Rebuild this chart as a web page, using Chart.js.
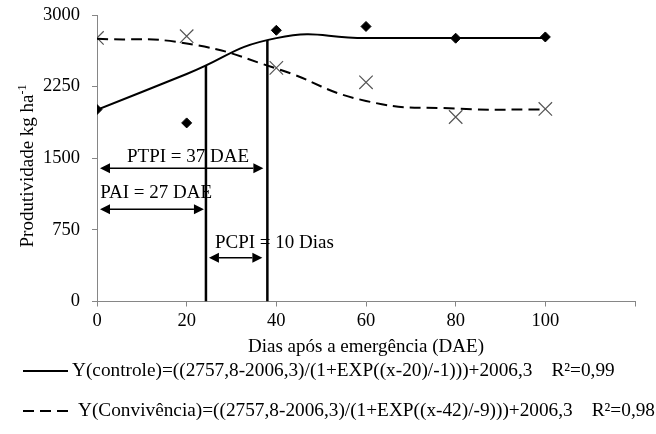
<!DOCTYPE html>
<html>
<head>
<meta charset="utf-8">
<script src="https://cdn.jsdelivr.net/npm/chart.js@4.4.1/dist/chart.umd.min.js"></script>
<style>
  html, body { margin: 0; padding: 0; background: #fff; }
  #wrap { width: 656px; height: 434px; }
</style>
</head>
<body>
<div id="wrap"><canvas id="chart"></canvas></div>
<script>
// Dias após a emergência (DAE)
const dias = [0, 20, 40, 60, 80, 100];

// Produtividade observada (kg/ha)
const controleObs = [2010, 1870, 2840, 2880, 2757, 2770];
const convivenciaObs = [2760, 2778, 2446, 2295, 1932, 2016];

// Valores ajustados pelas curvas
const controleAjuste = [2006, 2382, 2758, 2758, 2758, 2758];
const convivenciaAjuste = [2752, 2702, 2440, 2100, 2020, 2010];

// Limites dos períodos (DAE) e altura das linhas verticais (kg/ha)
const limitesPeriodo = [24.3, 38];
const topoLimites = [2468, 2738];

const xTicks = [0, 20, 40, 60, 80, 100, 120];
const xTickLabels = ['0', '20', '40', '60', '80', '100', ''];
const yTicks = [0, 750, 1500, 2250, 3000];

const legendaEquacoes = [
  'Y(controle)=((2757,8-2006,3)/(1+EXP((x-20)/-1)))+2006,3',
  'Y(Convivência)=((2757,8-2006,3)/(1+EXP((x-42)/-9)))+2006,3'
];
const legendaR2 = ['R²=0,99', 'R²=0,98'];

const SERIF = '"Liberation Serif", "Times New Roman", serif';
const EIXO = '#868686';

Chart.defaults.font.family = SERIF;
Chart.defaults.color = '#000';

const pontos = (ys) => dias.map((x, i) => ({ x, y: ys[i] }));
const vertical = (i) => [{ x: limitesPeriodo[i], y: 0 }, { x: limitesPeriodo[i], y: topoLimites[i] }];

// setas horizontais com ponta nos dois lados
function seta(ctx, x1, x2, y) {
  const head = 10, half = 5;
  ctx.beginPath();
  ctx.moveTo(x1 + head, y);
  ctx.lineTo(x2 - head, y);
  ctx.stroke();
  ctx.beginPath();
  ctx.moveTo(x1, y); ctx.lineTo(x1 + head, y - half); ctx.lineTo(x1 + head, y + half);
  ctx.closePath(); ctx.fill();
  ctx.beginPath();
  ctx.moveTo(x2, y); ctx.lineTo(x2 - head, y - half); ctx.lineTo(x2 - head, y + half);
  ctx.closePath(); ctx.fill();
}

// períodos PTPI, PAI e PCPI
const periodos = {
  id: 'periodos',
  afterDatasetsDraw(chart) {
    const { ctx } = chart;
    const sx = chart.scales.x, sy = chart.scales.y;
    const px = v => sx.getPixelForValue(v);
    const py = v => sy.getPixelForValue(v);
    const [a, b] = limitesPeriodo;
    ctx.save();
    ctx.strokeStyle = '#000';
    ctx.fillStyle = '#000';
    ctx.lineWidth = 1.5;
    seta(ctx, px(0) + 3, px(b) - 4, py(1394));
    seta(ctx, px(0) + 3, px(a) - 2, py(965));
    seta(ctx, px(a) + 3, px(b) - 5, py(459));

    ctx.font = '19px ' + SERIF;
    ctx.textBaseline = 'middle';
    ctx.textAlign = 'center';
    ctx.fillText('PTPI = 37 DAE', px(20.3), py(1513));
    ctx.textAlign = 'left';
    ctx.fillText('PAI = 27 DAE', px(0.7), py(1136));
    ctx.fillText('PCPI = 10 Dias', px(26.3), py(612));
    ctx.restore();
  }
};

// título do eixo y com expoente
const tituloY = {
  id: 'tituloY',
  afterDraw(chart) {
    const { ctx } = chart;
    const main = 'Produtividade kg ha', sup = '-1';
    ctx.save();
    ctx.font = '19px ' + SERIF;
    const w1 = ctx.measureText(main).width;
    ctx.font = '12px ' + SERIF;
    const w2 = ctx.measureText(sup).width;
    ctx.translate(28, 166);
    ctx.rotate(-Math.PI / 2);
    ctx.textBaseline = 'middle';
    ctx.textAlign = 'left';
    const x0 = -(w1 + w2) / 2;
    ctx.font = '19px ' + SERIF;
    ctx.fillText(main, x0, 0);
    ctx.font = '12px ' + SERIF;
    ctx.fillText(sup, x0 + w1, -5);
    ctx.restore();
  }
};

// legenda com as equações
const legendaEq = {
  id: 'legendaEq',
  afterDraw(chart) {
    const { ctx } = chart;
    const linhas = [
      { y: 371, dash: [], x2: 68, tx: 72 },
      { y: 411, dash: [11, 6], x2: 71, tx: 78 }
    ];
    ctx.save();
    ctx.font = '19.3px ' + SERIF;
    ctx.textBaseline = 'middle';
    ctx.textAlign = 'left';
    ctx.fillStyle = '#000';
    ctx.strokeStyle = '#000';
    ctx.lineWidth = 2;
    linhas.forEach((l, i) => {
      ctx.setLineDash(l.dash);
      ctx.beginPath();
      ctx.moveTo(23, l.y);
      ctx.lineTo(l.x2, l.y);
      ctx.stroke();
      ctx.fillText(legendaEquacoes[i], l.tx, l.y);
      const w = ctx.measureText(legendaEquacoes[i]).width;
      ctx.fillText(legendaR2[i], l.tx + w + 19, l.y);
    });
    ctx.restore();
  }
};

new Chart(document.getElementById('chart'), {
  type: 'scatter',
  data: {
    datasets: [
      {
        label: 'controle (ajuste)',
        data: pontos(controleAjuste),
        showLine: true,
        borderColor: '#000',
        borderWidth: 2,
        pointRadius: 0,
        tension: 0.5
      },
      {
        label: 'Convivência (ajuste)',
        data: pontos(convivenciaAjuste),
        showLine: true,
        borderColor: '#000',
        borderWidth: 2,
        borderDash: [11, 6],
        pointRadius: 0,
        tension: 0.5
      },
      {
        label: 'controle',
        data: pontos(controleObs),
        pointStyle: 'rectRot',
        pointRadius: 5,
        backgroundColor: '#000',
        borderColor: '#000',
        borderWidth: 1
      },
      {
        label: 'Convivência',
        data: pontos(convivenciaObs),
        pointStyle: 'crossRot',
        pointRadius: 9.5,
        borderColor: '#555',
        borderWidth: 1.2
      },
      {
        label: 'limite PAI',
        data: vertical(0),
        showLine: true,
        borderColor: '#000',
        borderWidth: 2.5,
        pointRadius: 0
      },
      {
        label: 'limite PTPI',
        data: vertical(1),
        showLine: true,
        borderColor: '#000',
        borderWidth: 2.5,
        pointRadius: 0
      }
    ]
  },
  options: {
    responsive: true,
    maintainAspectRatio: false,
    animation: false,
    layout: { padding: { top: 15, right: 21, bottom: 72.5, left: 0 } },
    plugins: {
      legend: { display: false },
      tooltip: { enabled: false }
    },
    scales: {
      x: {
        type: 'linear',
        min: 0,
        max: 120,
        afterBuildTicks: s => { s.ticks = xTicks.map(v => ({ value: v })); },
        afterFit: s => { s.height = 60; s.paddingLeft = 0; s.paddingRight = 0; },
        ticks: {
          font: { size: 18.5 },
          padding: 4,
          maxRotation: 0,
          callback: (v) => xTickLabels[xTicks.indexOf(v)]
        },
        grid: { drawOnChartArea: false, drawTicks: true, tickLength: 5, color: EIXO },
        border: { color: EIXO, width: 1 },
        title: {
          display: true,
          text: 'Dias após a emergência (DAE)',
          font: { size: 19 },
          padding: { top: 0, bottom: 3.5 }
        }
      },
      y: {
        min: 0,
        max: 3000,
        afterBuildTicks: s => { s.ticks = yTicks.map(v => ({ value: v })); },
        afterFit: s => { s.width = 97; s.paddingTop = 0; s.paddingBottom = 0; },
        ticks: { font: { size: 18.5 }, padding: 12, callback: v => String(v) },
        grid: { drawOnChartArea: false, drawTicks: true, tickLength: 5, color: EIXO },
        border: { color: EIXO, width: 1 }
      }
    }
  },
  plugins: [periodos, tituloY, legendaEq]
});
</script>
</body>
</html>
